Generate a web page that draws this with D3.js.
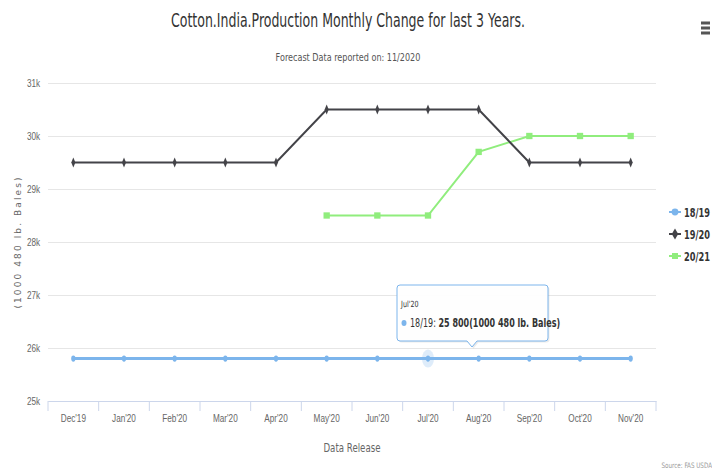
<!DOCTYPE html>
<html>
<head>
<meta charset="utf-8">
<script src="https://cdnjs.cloudflare.com/ajax/libs/d3/7.8.5/d3.min.js"></script>
<style>
  body { margin: 0; background: #fff; }
  svg { display: block; font-family: "DejaVu Sans", sans-serif; }
</style>
</head>
<body>
<div id="chart-area"></div>
<script>
const months = ["Dec'19", "Jan'20", "Feb'20", "Mar'20", "Apr'20", "May'20", "Jun'20", "Jul'20", "Aug'20", "Sep'20", "Oct'20", "Nov'20"];
const s1819 = [25800, 25800, 25800, 25800, 25800, 25800, 25800, 25800, 25800, 25800, 25800, 25800];
const s1920 = [29500, 29500, 29500, 29500, 29500, 30500, 30500, 30500, 30500, 29500, 29500, 29500];
const s2021 = [null, null, null, null, null, 28500, 28500, 28500, 29700, 30000, 30000, 30000];
const yTicks = [25000, 26000, 27000, 28000, 29000, 30000, 31000];

const chartSize = { width: 712, height: 470 };
const margin = { left: 48, right: 56, top: 83, bottom: 69 };
const width = chartSize.width - margin.left - margin.right;
const height = chartSize.height - margin.top - margin.bottom;

const series = [
  { name: '18/19', values: s1819, color: '#7cb5ec', symbol: d3.symbolCircle, lw: 3 },
  { name: '19/20', values: s1920, color: '#434348', symbol: d3.symbolDiamond, lw: 2 },
  { name: '20/21', values: s2021, color: '#90ed7d', symbol: d3.symbolSquare, lw: 2 }
];

// condensed text: no narrow font installed, so squeeze horizontally
const label = (parent, x, y, txt, size, sx, fill, anchor = 'start') => parent.append('g')
  .attr('transform', `translate(${x},${y}) scale(${sx},1)`)
  .append('text')
  .attr('font-size', size).attr('fill', fill).attr('text-anchor', anchor)
  .text(txt);

const svg = d3.select('#chart-area').append('svg')
  .attr('width', chartSize.width)
  .attr('height', chartSize.height);

label(svg, 348, 27, 'Cotton.India.Production Monthly Change for last 3 Years.', 19, 0.66, '#333', 'middle');
label(svg, 348, 61, 'Forecast Data reported on: 11/2020', 10.5, 0.77, '#555', 'middle');

// menu icon
[23, 28, 33].forEach(yy => svg.append('rect')
  .attr('x', 701).attr('y', yy - 1.5).attr('width', 9).attr('height', 3)
  .attr('fill', '#555'));

const g = svg.append('g').attr('transform', `translate(${margin.left},${margin.top})`);

const x = d3.scaleBand().domain(months).range([0, width]);
const y = d3.scaleLinear().domain([25000, 31000]).range([height, 0]);

// grid
g.append('g')
  .call(d3.axisLeft(y).tickValues(yTicks).tickSize(-width).tickFormat(d => `${d / 1000}k`))
  .call(a => a.select('.domain').remove())
  .call(a => a.selectAll('line').attr('stroke', '#e6e6e6'))
  .call(a => a.selectAll('text').attr('font-size', 10.5).attr('font-family', null)
    .attr('fill', '#666').attr('x', -10).attr('transform', 'scale(0.78,1)'));

// x axis
g.append('g')
  .attr('transform', `translate(0,${height})`)
  .call(d3.axisBottom(x).tickSize(0).tickPadding(14))
  .call(a => a.select('.domain').attr('stroke', '#ccd6eb'))
  .call(a => a.selectAll('text').attr('font-size', 10.5).attr('font-family', null)
    .attr('fill', '#666').attr('transform', 'scale(0.78,1)'));

g.append('g').selectAll('line')
  .data(months.concat(['end']))
  .join('line')
  .attr('x1', (d, i) => i * x.bandwidth()).attr('x2', (d, i) => i * x.bandwidth())
  .attr('y1', height).attr('y2', height + 10)
  .attr('stroke', '#ccd6eb');

label(svg, margin.left + width / 2, 452, 'Data Release', 12, 0.72, '#666', 'middle');

svg.append('text')
  .attr('transform', `translate(21,${margin.top + height / 2}) rotate(-90)`)
  .attr('text-anchor', 'middle')
  .attr('font-size', 9).attr('letter-spacing', 2.1).attr('fill', '#666')
  .text('(1000 480 lb. Bales)');

label(svg, 712, 468, 'Source: FAS USDA', 7.5, 0.75, '#999', 'end');

const cx = d => x(d) + x.bandwidth() / 2;
const line = d3.line()
  .defined(d => d.v != null)
  .x(d => cx(d.m)).y(d => y(d.v));

// halo for hovered point
g.append('ellipse').attr('cx', cx("Jul'20")).attr('cy', y(s1819[7]))
  .attr('rx', 6).attr('ry', 9).attr('fill', '#7cb5ec').attr('opacity', 0.25);

series.slice().reverse().forEach(s => {
  const pts = months.map((m, i) => ({ m, v: s.values[i] }));
  g.append('path').datum(pts)
    .attr('d', line).attr('fill', 'none')
    .attr('stroke', s.color).attr('stroke-width', s.lw);
  g.append('g').selectAll('path')
    .data(pts.filter(d => d.v != null))
    .join('path')
    .attr('transform', d => `translate(${cx(d.m)},${y(d.v)})` + (s.symbol === d3.symbolSquare ? '' : ' scale(0.7,1)'))
    .attr('d', d3.symbol().type(s.symbol).size(s.symbol === d3.symbolSquare ? 40 : 30))
    .attr('fill', s.color);
});

// legend
const leg = svg.append('g').attr('transform', 'translate(669,212)');
series.forEach((s, i) => {
  const r = leg.append('g').attr('transform', `translate(0,${i * 22})`);
  r.append('line').attr('x1', 0).attr('x2', 12).attr('stroke', s.color).attr('stroke-width', 2);
  r.append('path').attr('transform', 'translate(6,0)')
    .attr('d', d3.symbol().type(s.symbol).size(36)).attr('fill', s.color);
  label(r, 15, 4.5, s.name, 12.5, 0.66, '#333').attr('font-weight', 'bold');
});

// tooltip
const box = 'M3,0 H148 Q151,0 151,3 V53 Q151,56 148,56 H80 L75,62 L70,56 H3 Q0,56 0,53 V3 Q0,0 3,0 Z';
const tt = svg.append('g').attr('transform', 'translate(397,285)');
tt.append('path').attr('d', box)
  .attr('fill', '#000').attr('opacity', 0.08).attr('transform', 'translate(1.5,1.5)');
tt.append('path').attr('d', box)
  .attr('fill', 'rgba(255,255,255,0.95)').attr('stroke', '#7cb5ec');
label(tt, 4, 22, months[7], 8.5, 0.75, '#333');
tt.append('ellipse').attr('cx', 7).attr('cy', 38).attr('rx', 2.5).attr('ry', 3).attr('fill', '#7cb5ec');
const t2 = label(tt, 13, 42, '', 11.5, 0.7, '#333');
t2.append('tspan').text('18/19: ');
t2.append('tspan').attr('font-weight', 'bold').text(`${d3.format(',')(s1819[7]).replace(',', ' ')}(1000 480 lb. Bales)`);
</script>
</body>
</html>
